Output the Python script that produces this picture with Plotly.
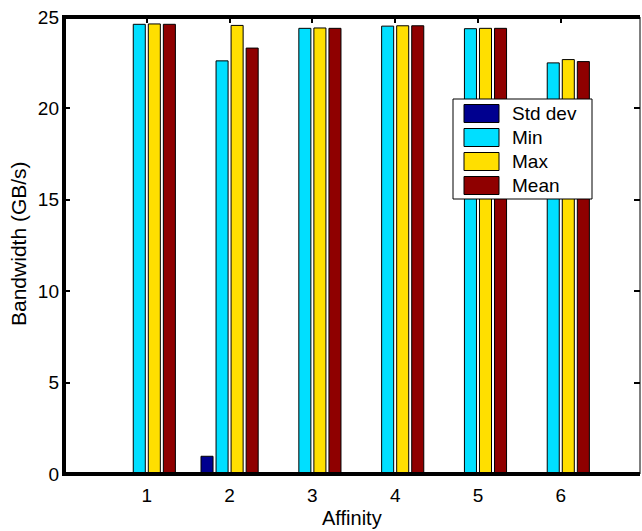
import plotly.graph_objects as go

# Memory bandwidth per thread-affinity setting
affinity = [1, 2, 3, 4, 5, 6]
series_names = ["Std dev", "Min", "Max", "Mean"]
std_dev = [0.02, 0.97, 0.02, 0.03, 0.02, 0.05]
bw_min = [24.60, 22.60, 24.38, 24.50, 24.36, 22.49]
bw_max = [24.62, 24.54, 24.40, 24.52, 24.38, 22.67]
bw_mean = [24.60, 23.30, 24.38, 24.52, 24.38, 22.56]
y_ticks = [0, 5, 10, 15, 20, 25]

colors = ["#00008F", "#00DFFF", "#FFDF00", "#8F0000"]
values = [std_dev, bw_min, bw_max, bw_mean]

W, H = 642, 531
L, R, T, B = 64, 2, 17, 57
PW, PH = W - L - R, H - T - B
FONT = "Liberation Sans, Arial, Helvetica, sans-serif"


def px(x):
    return (x - L) / PW


def py(y):
    return 1 - (y - T) / PH


fig = go.Figure()
for name, vals, col in zip(series_names, values, colors):
    fig.add_trace(go.Bar(
        x=affinity, y=vals, name=name,
        marker=dict(color=col, line=dict(color="black", width=1)),
        showlegend=False,
    ))

x_range = [0, 6.957]
axis_common = dict(
    ticks="inside", ticklen=6, tickwidth=2, tickcolor="black",
    showgrid=False, zeroline=False, showline=False,
    tickfont=dict(family=FONT, size=19, color="black"),
)

fig.update_layout(
    width=W, height=H,
    margin=dict(l=L, r=R, t=T, b=B, pad=0),
    paper_bgcolor="white", plot_bgcolor="white",
    barmode="group", bargap=0.273, bargroupgap=0.2,
    xaxis=dict(range=x_range, tickvals=affinity, ticks="", ticklabelstandoff=8,
               **{k: v for k, v in axis_common.items() if k != "ticks"}),
    xaxis2=dict(range=x_range, tickvals=affinity, overlaying="x", side="top",
                showticklabels=False, **axis_common),
    yaxis=dict(range=[0, 25], tickvals=y_ticks, ticklabelstandoff=4, **axis_common),
    yaxis2=dict(range=[0, 25], tickvals=y_ticks, overlaying="y", side="right",
                showticklabels=False, **axis_common),
    showlegend=False,
)

# Empty trace so the mirrored tick axes are laid out
fig.add_trace(go.Scatter(x=[None], y=[None], xaxis="x2", yaxis="y2",
                         showlegend=False, hoverinfo="skip"))

shapes = [
    # Axes box: heavy left/top/bottom edges, thin right edge
    dict(type="line", xref="paper", yref="paper", x0=0, x1=0, y0=py(T - 2), y1=py(H - B + 2),
         line=dict(color="black", width=4)),
    dict(type="line", xref="paper", yref="paper", x0=px(L - 2), x1=1, y0=1, y1=1,
         line=dict(color="black", width=4)),
    dict(type="line", xref="paper", yref="paper", x0=px(L - 2), x1=1, y0=0, y1=0,
         line=dict(color="black", width=4)),
    dict(type="line", xref="paper", yref="paper", x0=1, x1=1, y0=0, y1=1,
         line=dict(color="black", width=1)),
    # Legend frame
    dict(type="rect", xref="paper", yref="paper", x0=px(453), x1=px(592),
         y0=py(199), y1=py(99), fillcolor="white", line=dict(color="black", width=1)),
]

annotations = [
    dict(text="Affinity", xref="paper", yref="paper", x=0.5, y=py(518),
         showarrow=False, font=dict(family=FONT, size=20, color="black"),
         xanchor="center", yanchor="middle"),
    dict(text="Bandwidth (GB/s)", xref="paper", yref="paper", x=px(18), y=py(244),
         showarrow=False, textangle=-90, font=dict(family=FONT, size=21, color="black"),
         xanchor="center", yanchor="middle"),
]

row_centers = [113.5, 137.5, 161.5, 185.5]
for name, col, yc in zip(series_names, colors, row_centers):
    shapes.append(dict(type="rect", xref="paper", yref="paper",
                       x0=px(464), x1=px(499), y0=py(yc + 9), y1=py(yc - 9),
                       fillcolor=col, line=dict(color="black", width=1)))
    annotations.append(dict(text=name, xref="paper", yref="paper",
                            x=px(510), y=py(yc), xanchor="left", yanchor="middle",
                            showarrow=False,
                            font=dict(family=FONT, size=19, color="black")))

fig.update_layout(shapes=shapes, annotations=annotations)
fig.write_html("out.html")
